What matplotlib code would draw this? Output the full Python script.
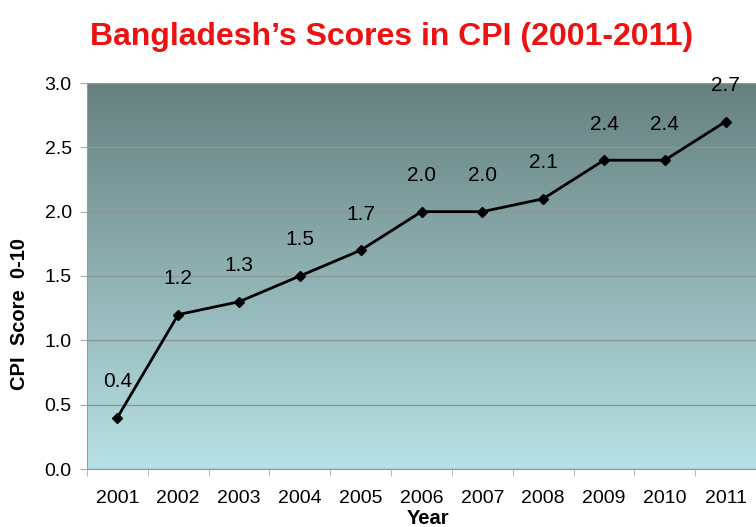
import matplotlib
matplotlib.use("Agg")
import matplotlib.pyplot as plt
import numpy as np
from matplotlib.colors import LinearSegmentedColormap

years = ["2001", "2002", "2003", "2004", "2005", "2006", "2007", "2008", "2009", "2010", "2011"]
scores = [0.4, 1.2, 1.3, 1.5, 1.7, 2.0, 2.0, 2.1, 2.4, 2.4, 2.7]
yticks = [0.0, 0.5, 1.0, 1.5, 2.0, 2.5, 3.0]

plt.rcParams['font.family'] = ['Liberation Sans', 'DejaVu Sans']

fig = plt.figure(figsize=(7.56, 5.27), dpi=100)
ax = fig.add_axes([87/756, 1-469/527, 1-87/756, (469-83)/527])

# gradient background
cmap = LinearSegmentedColormap.from_list("bg", ["#b8e2e6", "#66807f"])
grad = np.linspace(0, 1, 256).reshape(-1, 1)
ax.imshow(grad, cmap=cmap, aspect="auto", extent=[0, 1, 0, 1], origin="lower",
          transform=ax.transAxes, zorder=0)
ax.set_facecolor("none")

x = np.arange(len(years))
ax.set_xlim(-0.5, len(years) - 0.5)
ax.set_ylim(0, 3.0)
ax.set_yticks(yticks)
ax.set_yticklabels([f"{v:.1f}" for v in yticks], fontsize=14)
ax.yaxis.grid(True, color="#8c9696", linewidth=1, zorder=1)
ax.set_axisbelow(False)

ax.set_xticks(x)
ax.set_xticklabels(years, fontsize=14)
ax.set_xticks(np.arange(-0.5, len(years), 1), minor=True)
ax.tick_params(axis="x", which="major", length=0, pad=15)
ax.tick_params(axis="x", which="minor", length=5, color="#aaaaaa")
ax.tick_params(axis="y", length=5, color="#aaaaaa", pad=6)

for s in ["top", "right"]:
    ax.spines[s].set_visible(False)
for s in ["left", "bottom"]:
    ax.spines[s].set_color("#999999")

ax.plot(x, scores, color="black", linewidth=2, marker="D", markersize=5, zorder=3)
for xi, v in zip(x, scores):
    ax.annotate(f"{v:.1f}", (xi, v), textcoords="offset points", xytext=(0, 26),
                ha="center", va="center", fontsize=15, zorder=4, annotation_clip=False)

fig.text(392/756, 1-37/527, "Bangladesh\u2019s Scores in CPI (2001-2011)", color="#ee1111",
         fontsize=23, fontweight="bold", ha="center", va="center")
fig.text(20/756, 1-314/527, "CPI  Score  0-10", rotation=90, fontsize=14.5, fontweight="bold",
         ha="center", va="center")
fig.text(428/756, 1-518/527, "Year", fontsize=14.5, fontweight="bold", ha="center", va="center")

fig.savefig("out.png", dpi=100)
